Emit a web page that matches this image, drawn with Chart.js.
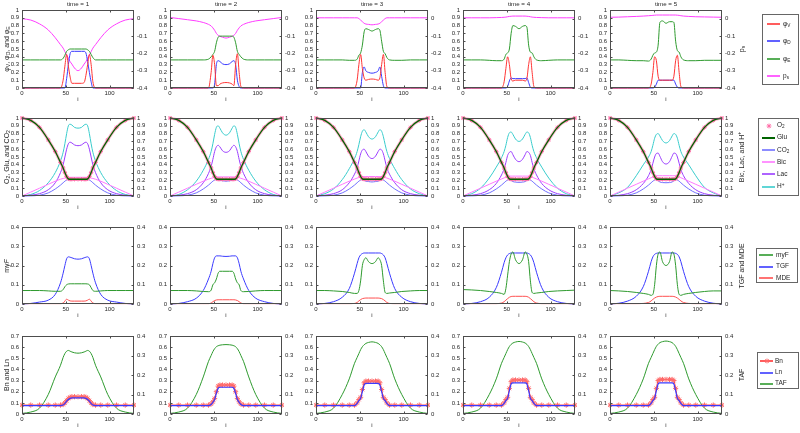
<!DOCTYPE html>
<html><head><meta charset="utf-8">
<script src="https://cdn.jsdelivr.net/npm/chart.js@4.4.1/dist/chart.umd.min.js"></script>
<style>
html,body{margin:0;padding:0;background:#fff;}
body{width:800px;height:433px;position:relative;overflow:hidden;font-family:"Liberation Sans",Arial,sans-serif;color:#262626;}
canvas{position:absolute;}
.lbl{position:absolute;white-space:nowrap;line-height:1;}
.c{transform:translate(-50%,-50%);}
.rot{transform:translate(-50%,-50%) rotate(-90deg);}
sub{font-size:72%;vertical-align:-0.3em;line-height:0;}
sup{font-size:72%;vertical-align:0.5em;line-height:0;}
.leg{position:absolute;border:1px solid #666;box-sizing:border-box;background:#fff;}
.ll{position:absolute;}
</style></head><body>
<script>
// ---------------- data ----------------
const xs = [0,10,20,30,38,44,47,49,51,53,55,57,60,64,68,71,73,75,77,79,81,84,90,98,108,118,128];
const xTicks = [0,50,100];
const ticks01 = [0,0.1,0.2,0.3,0.4,0.5,0.6,0.7,0.8,0.9,1];
const psTicks = [-0.4,-0.3,-0.2,-0.1,0];
const ticks04 = [0,0.1,0.2,0.3,0.4];
const ticks07 = [0,0.1,0.2,0.3,0.4,0.5,0.6,0.7];
const times = ['time = 1','time = 2','time = 3','time = 4','time = 5'];

const phiV = [
 [0,0,0,0,0,0,0.1,0.28,0.43,0.28,0.14,0.06,0.06,0.06,0.06,0.07,0.16,0.3,0.43,0.3,0.08,0,0,0,0,0,0],
 [0,0,0,0,0,0,0.2,0.42,0.3,0.03,0.03,0.05,0.065,0.07,0.065,0.05,0.03,0.3,0.44,0.2,0.02,0,0,0,0,0,0],
 [0,0,0,0,0,0,0.1,0.3,0.43,0.25,0.13,0.1,0.11,0.115,0.11,0.1,0.13,0.3,0.43,0.2,0.02,0,0,0,0,0,0],
 [0,0,0,0,0,0,0.08,0.25,0.4,0.3,0.12,0.09,0.1,0.1,0.1,0.09,0.12,0.3,0.4,0.2,0.02,0,0,0,0,0,0],
 [0,0,0,0,0,0,0.05,0.2,0.4,0.35,0.15,0.1,0.1,0.1,0.1,0.1,0.15,0.35,0.42,0.2,0.02,0,0,0,0,0,0]
];
const phiD = [
 [0,0,0,0,0,0,0,0,0.12,0.3,0.44,0.47,0.47,0.47,0.47,0.47,0.45,0.34,0.2,0.08,0,0,0,0,0,0,0],
 [0,0,0,0,0,0,0,0,0.05,0.3,0.35,0.34,0.31,0.3,0.31,0.34,0.35,0.3,0.1,0.02,0,0,0,0,0,0,0],
 [0,0,0,0,0,0,0,0,0,0.2,0.27,0.22,0.2,0.19,0.2,0.22,0.27,0.15,0.03,0,0,0,0,0,0,0,0],
 [0,0,0,0,0,0,0,0,0.02,0.09,0.13,0.12,0.12,0.12,0.12,0.12,0.13,0.07,0.01,0,0,0,0,0,0,0,0],
 [0,0,0,0,0,0,0,0,0.01,0.05,0.1,0.1,0.1,0.1,0.1,0.1,0.1,0.05,0.01,0,0,0,0,0,0,0,0]
];
const phiE = [
 [0.36,0.36,0.36,0.36,0.36,0.36,0.38,0.42,0.47,0.49,0.5,0.5,0.5,0.5,0.5,0.5,0.5,0.49,0.47,0.43,0.39,0.36,0.36,0.36,0.36,0.36,0.36],
 [0.36,0.36,0.36,0.36,0.36,0.37,0.4,0.43,0.47,0.58,0.65,0.665,0.665,0.665,0.665,0.665,0.65,0.58,0.47,0.43,0.4,0.37,0.36,0.36,0.36,0.36,0.36],
 [0.36,0.36,0.36,0.36,0.355,0.355,0.37,0.42,0.45,0.55,0.72,0.76,0.75,0.73,0.75,0.76,0.74,0.6,0.47,0.44,0.39,0.36,0.355,0.355,0.36,0.36,0.36],
 [0.36,0.36,0.36,0.355,0.35,0.35,0.37,0.43,0.45,0.5,0.7,0.8,0.79,0.76,0.79,0.8,0.78,0.55,0.46,0.45,0.4,0.36,0.35,0.355,0.36,0.36,0.36],
 [0.36,0.36,0.355,0.35,0.35,0.345,0.37,0.42,0.45,0.46,0.55,0.84,0.86,0.83,0.85,0.85,0.84,0.6,0.48,0.46,0.4,0.36,0.35,0.35,0.355,0.355,0.355]
];
const ps = [
 [0,-0.008,-0.03,-0.065,-0.11,-0.15,-0.17,-0.19,-0.21,-0.228,-0.248,-0.262,-0.285,-0.3,-0.285,-0.262,-0.248,-0.228,-0.21,-0.19,-0.17,-0.15,-0.11,-0.065,-0.03,-0.008,0],
 [0.007,0.0005,-0.006,-0.013,-0.022,-0.033,-0.042,-0.053,-0.067,-0.085,-0.096,-0.102,-0.107,-0.112,-0.107,-0.102,-0.096,-0.085,-0.067,-0.053,-0.042,-0.033,-0.022,-0.013,-0.006,0.0005,0.007],
 [0.005,0.005,0.005,0.005,0.005,0.005,0.005,0.0005,-0.0085,-0.0175,-0.0265,-0.031,-0.033,-0.0355,-0.033,-0.031,-0.0265,-0.0175,-0.0085,0.0005,0.005,0.005,0.005,0.005,0.005,0.005,0.005],
 [0.005,0.005,0.005,0.005,0.006,0.007,0.008,0.009,0.011,0.013,0.014,0.015,0.015,0.015,0.015,0.015,0.014,0.013,0.011,0.009,0.008,0.007,0.006,0.005,0.005,0.005,0.005],
 [0.008,0.009,0.011,0.013,0.015,0.017,0.018,0.019,0.02,0.021,0.021,0.021,0.021,0.021,0.021,0.021,0.021,0.021,0.02,0.019,0.017,0.015,0.013,0.011,0.01,0.009,0.008]
];
// O2 and Glu read identical at every time
const o2 = [1,0.97,0.88,0.72,0.57,0.43,0.36,0.3,0.25,0.22,0.215,0.215,0.215,0.215,0.215,0.215,0.215,0.22,0.25,0.3,0.36,0.43,0.57,0.72,0.88,0.97,1];
const glu = [1,0.97,0.88,0.72,0.57,0.43,0.36,0.3,0.25,0.22,0.215,0.215,0.215,0.215,0.215,0.215,0.215,0.22,0.25,0.3,0.36,0.43,0.57,0.72,0.88,0.97,1];
const co2 = [
 [0,0.002,0.01,0.04,0.09,0.14,0.17,0.19,0.205,0.21,0.21,0.21,0.21,0.21,0.21,0.21,0.21,0.21,0.205,0.19,0.17,0.14,0.09,0.04,0.01,0.002,0],
 [0,0.002,0.01,0.04,0.09,0.14,0.17,0.19,0.205,0.21,0.205,0.2,0.195,0.19,0.195,0.2,0.205,0.21,0.205,0.19,0.17,0.14,0.09,0.04,0.01,0.002,0],
 [0,0.002,0.01,0.04,0.09,0.14,0.17,0.19,0.205,0.21,0.2,0.19,0.185,0.18,0.185,0.19,0.2,0.21,0.205,0.19,0.17,0.14,0.09,0.04,0.01,0.002,0],
 [0,0.002,0.01,0.04,0.09,0.14,0.17,0.19,0.205,0.21,0.2,0.185,0.178,0.175,0.178,0.185,0.2,0.21,0.205,0.19,0.17,0.14,0.09,0.04,0.01,0.002,0],
 [0,0.002,0.01,0.04,0.09,0.14,0.17,0.19,0.205,0.21,0.195,0.18,0.172,0.17,0.172,0.18,0.195,0.21,0.205,0.19,0.17,0.14,0.09,0.04,0.01,0.002,0]
];
const bic = [
 [0,0.05,0.1,0.15,0.19,0.215,0.225,0.23,0.235,0.24,0.24,0.24,0.24,0.24,0.24,0.24,0.24,0.24,0.235,0.23,0.225,0.215,0.19,0.15,0.1,0.05,0],
 [0,0.05,0.1,0.15,0.19,0.216,0.227,0.233,0.24,0.245,0.245,0.245,0.245,0.245,0.245,0.245,0.245,0.245,0.24,0.233,0.227,0.216,0.19,0.15,0.1,0.05,0],
 [0,0.05,0.1,0.15,0.19,0.217,0.23,0.237,0.244,0.25,0.25,0.25,0.25,0.25,0.25,0.25,0.25,0.25,0.244,0.237,0.23,0.217,0.19,0.15,0.1,0.05,0],
 [0,0.05,0.1,0.15,0.19,0.218,0.232,0.24,0.248,0.255,0.255,0.255,0.255,0.255,0.255,0.255,0.255,0.255,0.248,0.24,0.232,0.218,0.19,0.15,0.1,0.05,0],
 [0,0.05,0.1,0.15,0.19,0.22,0.234,0.243,0.252,0.26,0.26,0.26,0.26,0.26,0.26,0.26,0.26,0.26,0.252,0.243,0.234,0.22,0.19,0.15,0.1,0.05,0]
];
const lac = [
 [0,0.01,0.03,0.08,0.17,0.3,0.4,0.5,0.6,0.67,0.69,0.68,0.655,0.645,0.655,0.68,0.69,0.67,0.6,0.5,0.4,0.3,0.17,0.08,0.03,0.01,0],
 [0,0.01,0.03,0.08,0.17,0.29,0.38,0.47,0.57,0.63,0.65,0.63,0.58,0.56,0.58,0.63,0.65,0.63,0.57,0.47,0.38,0.29,0.17,0.08,0.03,0.01,0],
 [0,0.01,0.03,0.08,0.17,0.28,0.36,0.45,0.54,0.59,0.6,0.57,0.51,0.48,0.51,0.57,0.6,0.59,0.54,0.45,0.36,0.28,0.17,0.08,0.03,0.01,0],
 [0,0.01,0.03,0.08,0.16,0.27,0.35,0.43,0.52,0.56,0.57,0.53,0.47,0.44,0.47,0.53,0.57,0.56,0.52,0.43,0.35,0.27,0.16,0.08,0.03,0.01,0],
 [0,0.01,0.03,0.08,0.16,0.26,0.34,0.42,0.5,0.545,0.55,0.51,0.44,0.41,0.44,0.51,0.55,0.545,0.5,0.42,0.34,0.26,0.16,0.08,0.03,0.01,0]
];
const hplus = [
 [0,0.02,0.07,0.17,0.3,0.45,0.56,0.67,0.8,0.9,0.92,0.91,0.88,0.87,0.88,0.91,0.92,0.9,0.8,0.67,0.56,0.45,0.3,0.17,0.07,0.02,0],
 [0,0.02,0.08,0.19,0.33,0.47,0.57,0.67,0.79,0.88,0.9,0.87,0.81,0.78,0.81,0.87,0.9,0.88,0.79,0.67,0.57,0.47,0.33,0.19,0.08,0.02,0],
 [0,0.03,0.09,0.21,0.35,0.48,0.57,0.66,0.76,0.83,0.85,0.82,0.76,0.73,0.76,0.82,0.85,0.83,0.76,0.66,0.57,0.48,0.35,0.21,0.09,0.03,0],
 [0,0.03,0.1,0.23,0.37,0.49,0.57,0.65,0.75,0.81,0.82,0.79,0.73,0.7,0.73,0.79,0.82,0.81,0.75,0.65,0.57,0.49,0.37,0.23,0.1,0.03,0],
 [0,0.04,0.11,0.26,0.4,0.5,0.57,0.65,0.74,0.79,0.8,0.77,0.71,0.68,0.71,0.77,0.8,0.79,0.74,0.65,0.57,0.5,0.4,0.26,0.11,0.04,0]
];
const myF = [
 [0.07,0.07,0.07,0.068,0.066,0.066,0.075,0.09,0.1,0.104,0.105,0.105,0.105,0.105,0.105,0.105,0.105,0.104,0.1,0.085,0.07,0.066,0.068,0.07,0.07,0.07,0.07],
 [0.07,0.07,0.07,0.068,0.065,0.064,0.072,0.1,0.11,0.13,0.16,0.17,0.17,0.17,0.17,0.17,0.16,0.13,0.11,0.1,0.07,0.064,0.065,0.068,0.07,0.07,0.07],
 [0.07,0.07,0.068,0.065,0.06,0.055,0.055,0.07,0.12,0.2,0.23,0.24,0.22,0.21,0.22,0.24,0.23,0.2,0.12,0.06,0.055,0.057,0.06,0.065,0.068,0.07,0.07],
 [0.075,0.073,0.07,0.065,0.06,0.055,0.05,0.08,0.15,0.22,0.26,0.27,0.23,0.21,0.23,0.27,0.26,0.22,0.12,0.06,0.055,0.057,0.06,0.065,0.068,0.07,0.072],
 [0.07,0.068,0.065,0.06,0.055,0.05,0.045,0.05,0.1,0.2,0.26,0.27,0.22,0.2,0.22,0.27,0.26,0.2,0.1,0.05,0.045,0.05,0.055,0.06,0.065,0.068,0.068]
];
const tgf = [
 [0,0.003,0.01,0.02,0.05,0.11,0.16,0.2,0.235,0.245,0.243,0.24,0.235,0.233,0.235,0.24,0.243,0.245,0.235,0.2,0.16,0.11,0.05,0.02,0.01,0.003,0],
 [0,0.003,0.012,0.03,0.07,0.13,0.17,0.21,0.24,0.25,0.25,0.25,0.248,0.247,0.248,0.25,0.25,0.25,0.24,0.21,0.17,0.13,0.07,0.03,0.012,0.003,0],
 [0,0.003,0.012,0.035,0.08,0.16,0.21,0.24,0.255,0.262,0.265,0.265,0.265,0.265,0.265,0.265,0.265,0.262,0.255,0.24,0.21,0.16,0.08,0.035,0.012,0.003,0],
 [0,0.003,0.012,0.035,0.085,0.165,0.215,0.24,0.255,0.262,0.265,0.265,0.265,0.265,0.265,0.265,0.265,0.262,0.255,0.24,0.215,0.165,0.085,0.035,0.012,0.003,0],
 [0,0.004,0.015,0.04,0.09,0.17,0.22,0.245,0.258,0.263,0.265,0.265,0.265,0.265,0.265,0.265,0.265,0.263,0.258,0.245,0.22,0.17,0.09,0.04,0.015,0.004,0]
];
const mde = [
 [0.002,0.002,0.002,0.002,0.002,0.002,0.005,0.015,0.025,0.02,0.016,0.015,0.015,0.015,0.015,0.015,0.016,0.02,0.025,0.015,0.005,0.002,0.002,0.002,0.002,0.002,0.002],
 [0.002,0.002,0.002,0.002,0.002,0.002,0.005,0.012,0.018,0.021,0.022,0.022,0.022,0.022,0.022,0.022,0.022,0.021,0.018,0.012,0.005,0.002,0.002,0.002,0.002,0.002,0.002],
 [0.002,0.002,0.002,0.002,0.002,0.003,0.008,0.016,0.023,0.028,0.03,0.031,0.031,0.031,0.031,0.031,0.03,0.028,0.023,0.016,0.008,0.003,0.002,0.002,0.002,0.002,0.002],
 [0.002,0.002,0.002,0.002,0.002,0.005,0.012,0.02,0.028,0.035,0.039,0.04,0.04,0.04,0.04,0.04,0.039,0.035,0.028,0.02,0.012,0.005,0.002,0.002,0.002,0.002,0.002],
 [0.002,0.002,0.002,0.002,0.003,0.008,0.016,0.024,0.031,0.036,0.039,0.04,0.04,0.04,0.04,0.04,0.039,0.036,0.031,0.024,0.016,0.008,0.003,0.002,0.002,0.002,0.002]
];
const bn = [
 [0.08,0.08,0.08,0.08,0.08,0.08,0.085,0.1,0.12,0.14,0.15,0.155,0.155,0.155,0.155,0.155,0.15,0.14,0.12,0.1,0.085,0.08,0.08,0.08,0.08,0.08,0.08],
 [0.08,0.08,0.08,0.08,0.08,0.08,0.09,0.11,0.14,0.2,0.25,0.26,0.26,0.26,0.26,0.26,0.25,0.2,0.14,0.11,0.09,0.08,0.08,0.08,0.08,0.08,0.08],
 [0.08,0.08,0.08,0.08,0.08,0.08,0.1,0.13,0.15,0.22,0.28,0.295,0.295,0.295,0.295,0.295,0.28,0.22,0.15,0.13,0.1,0.08,0.08,0.08,0.08,0.08,0.08],
 [0.08,0.08,0.08,0.08,0.08,0.08,0.1,0.13,0.15,0.23,0.29,0.305,0.305,0.305,0.305,0.305,0.29,0.23,0.15,0.13,0.1,0.08,0.08,0.08,0.08,0.08,0.08],
 [0.08,0.08,0.08,0.08,0.08,0.08,0.1,0.13,0.15,0.23,0.3,0.31,0.31,0.31,0.31,0.31,0.3,0.23,0.15,0.13,0.1,0.08,0.08,0.08,0.08,0.08,0.08]
];
const ln = [
 [0.075,0.075,0.075,0.075,0.075,0.075,0.08,0.095,0.115,0.13,0.14,0.145,0.145,0.145,0.145,0.145,0.14,0.13,0.115,0.095,0.08,0.075,0.075,0.075,0.075,0.075,0.075],
 [0.075,0.075,0.075,0.075,0.075,0.075,0.085,0.105,0.13,0.185,0.23,0.24,0.24,0.24,0.24,0.24,0.23,0.185,0.13,0.105,0.085,0.075,0.075,0.075,0.075,0.075,0.075],
 [0.075,0.075,0.075,0.075,0.075,0.075,0.095,0.12,0.14,0.2,0.26,0.275,0.275,0.275,0.275,0.275,0.26,0.2,0.14,0.12,0.095,0.075,0.075,0.075,0.075,0.075,0.075],
 [0.075,0.075,0.075,0.075,0.075,0.075,0.095,0.12,0.14,0.21,0.27,0.28,0.28,0.28,0.28,0.28,0.27,0.21,0.14,0.12,0.095,0.075,0.075,0.075,0.075,0.075,0.075],
 [0.075,0.075,0.075,0.075,0.075,0.075,0.095,0.12,0.14,0.21,0.27,0.28,0.28,0.28,0.28,0.28,0.27,0.21,0.14,0.12,0.095,0.075,0.075,0.075,0.075,0.075,0.075]
];
const taf = [
 [0.003,0.01,0.03,0.1,0.19,0.25,0.29,0.31,0.322,0.326,0.322,0.318,0.314,0.312,0.314,0.318,0.322,0.326,0.322,0.31,0.29,0.25,0.19,0.1,0.03,0.01,0.003],
 [0.003,0.01,0.03,0.1,0.19,0.27,0.3,0.32,0.335,0.345,0.35,0.353,0.355,0.356,0.355,0.353,0.35,0.345,0.335,0.32,0.3,0.27,0.19,0.1,0.03,0.01,0.003],
 [0.003,0.01,0.03,0.1,0.18,0.26,0.29,0.31,0.33,0.345,0.355,0.362,0.367,0.37,0.367,0.362,0.355,0.345,0.33,0.31,0.29,0.26,0.18,0.1,0.03,0.01,0.003],
 [0.003,0.01,0.03,0.1,0.18,0.26,0.29,0.31,0.33,0.346,0.357,0.364,0.369,0.372,0.369,0.364,0.357,0.346,0.33,0.31,0.29,0.26,0.18,0.1,0.03,0.01,0.003],
 [0.003,0.01,0.03,0.1,0.18,0.26,0.29,0.31,0.33,0.347,0.358,0.366,0.371,0.374,0.371,0.366,0.358,0.347,0.33,0.31,0.29,0.26,0.18,0.1,0.03,0.01,0.003]
];

// ---------------- layout / style ----------------
const FAM = '"Liberation Sans", Arial, sans-serif';
const AX = '#4d4d4d', TXT = '#262626';
const colLeft = [22,170,316,463,610], PW = 112;
const rowTop = [10,118,227,336], rowH = [78,78,77,78];
const PL = 30, PR = 30, PT = 8, PB = 15;

const C = {red:'#ff3434', blue:'#3a3aff', green:'#2e9a2e', mag:'#ff3cff', pink:'#ff6fa8', dgreen:'#006400',
           lblue:'#6f6fff', bic:'#ff78ff', lac:'#9a3cff', cyan:'#38cccc', mde:'#ff5050'};

const rows = [
 {yMin:0,yMax:1,yT:ticks01,y2Min:-0.4,y2Max:0.05,y2T:psTicks, series:[
   {get:c=>phiV[c],color:C.red,axis:'y'},{get:c=>phiD[c],color:C.blue,axis:'y'},
   {get:c=>phiE[c],color:C.green,axis:'y'},{get:c=>ps[c],color:C.mag,axis:'y2'}]},
 {yMin:0,yMax:1,yT:ticks01,y2Min:0,y2Max:1,y2T:ticks01, series:[
   {get:c=>glu,color:C.dgreen,axis:'y',w:1.3},
   {get:c=>o2,color:'rgba(255,110,160,0.55)',axis:'y',w:3,pt:{r:2.2,color:C.pink}},
   {get:c=>co2[c],color:C.lblue,axis:'y'},{get:c=>bic[c],color:C.bic,axis:'y2'},
   {get:c=>lac[c],color:C.lac,axis:'y2'},{get:c=>hplus[c],color:C.cyan,axis:'y2'}]},
 {yMin:0,yMax:0.4,yT:ticks04,y2Min:0,y2Max:0.4,y2T:ticks04, series:[
   {get:c=>mde[c],color:C.mde,axis:'y2'},{get:c=>myF[c],color:C.green,axis:'y'},
   {get:c=>tgf[c],color:C.blue,axis:'y2'}]},
 {yMin:0,yMax:0.7,yT:ticks07,y2Min:0,y2Max:0.4,y2T:ticks04, series:[
   {get:c=>ln[c],color:C.blue,axis:'y',w:1.2},
   {get:c=>bn[c],color:C.red,axis:'y',pt:{r:2.6,color:'#ff6a6a'}},
   {get:c=>taf[c],color:C.green,axis:'y2'}]}
];

const frame = {id:'frame', afterDatasetsDraw(chart){
  const {ctx, chartArea:a, scales} = chart;
  ctx.save(); ctx.strokeStyle = AX; ctx.lineWidth = 1;
  const l = Math.round(a.left)+0.5, r = Math.round(a.right)-0.5, t = Math.round(a.top)+0.5, b = Math.round(a.bottom)-0.5;
  ctx.strokeRect(l, t, r-l, b-t);
  ctx.beginPath();
  scales.x.ticks.forEach(k=>{const p=Math.round(scales.x.getPixelForValue(k.value))+0.5; ctx.moveTo(p,b); ctx.lineTo(p,b-2); ctx.moveTo(p,t); ctx.lineTo(p,t+2);});
  scales.y.ticks.forEach(k=>{const p=Math.round(scales.y.getPixelForValue(k.value))+0.5; ctx.moveTo(l,p); ctx.lineTo(l+2,p);});
  scales.y2.ticks.forEach(k=>{const p=Math.round(scales.y2.getPixelForValue(k.value))+0.5; ctx.moveTo(r,p); ctx.lineTo(r-2,p);});
  ctx.stroke(); ctx.restore();
}};

const fmt = v => String(Math.round(v*100)/100);
const setTicks = list => s => { s.ticks = list.map(v=>({value:v})); };

function panel(r, c){
  const row = rows[r];
  const cv = document.createElement('canvas');
  const W = PL+PW+PR, H = PT+rowH[r]+PB;
  cv.width = W; cv.height = H;
  cv.style.left = (colLeft[c]-PL)+'px'; cv.style.top = (rowTop[r]-PT)+'px';
  cv.style.width = W+'px'; cv.style.height = H+'px';
  document.body.appendChild(cv);
  const font = {family:FAM, size:6};
  const datasets = row.series.map(s=>{
    const arr = s.get(c);
    return {data: xs.map((x,i)=>({x, y:arr[i]})), yAxisID:s.axis, borderColor:s.color, borderWidth:s.w||1,
      pointRadius:s.pt?s.pt.r:0, pointStyle:'star', pointBorderColor:s.pt?s.pt.color:s.color, pointBorderWidth:1,
      pointBackgroundColor:'transparent', cubicInterpolationMode:'monotone', fill:false, clip:2};
  });
  const yScale = (pos,min,max,list,wid) => ({type:'linear',position:pos,min,max,afterBuildTicks:setTicks(list),
      afterFit:s=>{s.width=wid;}, grid:{display:false,drawTicks:false}, border:{display:false},
      ticks:{font,color:TXT,padding:3,autoSkip:false,callback:v=>fmt(v)}});
  new Chart(cv, {type:'line', data:{datasets}, options:{
    responsive:false, animation:false, events:[], devicePixelRatio:1,
    layout:{padding:{top:PT,left:0,right:0,bottom:0}},
    plugins:{legend:{display:false}, tooltip:{enabled:false}},
    scales:{
      x:{type:'linear',min:0,max:128,afterBuildTicks:setTicks(xTicks),afterFit:s=>{s.height=PB;},
         grid:{display:false,drawTicks:false}, border:{display:false},
         ticks:{font,color:TXT,padding:2,maxRotation:0,autoSkip:false,callback:v=>fmt(v)},
         title:{display:true,text:'i',font,color:TXT,padding:0}},
      y: yScale('left', row.yMin,row.yMax,row.yT,PL),
      y2: yScale('right',row.y2Min,row.y2Max,row.y2T,PR)
    }}, plugins:[frame]});
}

function addText(html, x, y, size, cls){
  const d = document.createElement('div');
  d.className = 'lbl '+cls; d.innerHTML = html;
  d.style.left = x+'px'; d.style.top = y+'px'; d.style.fontSize = size+'px';
  document.body.appendChild(d); return d;
}

for (let r=0;r<4;r++) for (let c=0;c<5;c++) panel(r,c);
times.forEach((t,c)=>addText(t, colLeft[c]+PW/2, 3.5, 6.2, 'c'));

// axis titles
const leftTitles = ['&phi;<sub>V</sub>, &phi;<sub>D</sub>, and &phi;<sub>E</sub>','O<sub>2</sub>, Glu, and CO<sub>2</sub>','my<i>F</i>','Bn and Ln'];
const rightTitles = ['p<sub>s</sub>','Bic, Lac, and H<sup>+</sup>','TGF and MDE','TAF'];
leftTitles.forEach((t,r)=>addText(t, 6, rowTop[r]+rowH[r]/2, 7, 'rot'));
rightTitles.forEach((t,r)=>addText(t, 740.5, rowTop[r]+rowH[r]/2, 7, 'rot'));

// legends
function legend(box, x0, x1, lx, items){
  const d = document.createElement('div'); d.className='leg';
  d.style.left=box[0]+'px'; d.style.top=box[1]+'px'; d.style.width=box[2]+'px'; d.style.height=box[3]+'px';
  document.body.appendChild(d);
  items.forEach(it=>{
    const yy = Math.round(it.y);
    if (it.line!==false){
      const l = document.createElement('div'); l.className='ll';
      const w = it.w||2;
      l.style.left = x0+'px'; l.style.top = (yy-1)+'px'; l.style.width = (x1-x0)+'px';
      l.style.height = w+'px'; l.style.background = it.color; l.style.opacity = it.op||0.8;
      document.body.appendChild(l);
    }
    if (it.star){
      const s=2.4, t=1.7;
      const svg = `<svg width="8" height="8" style="position:absolute;left:${(x0+x1)/2-4}px;top:${yy-4}px;overflow:visible"><g stroke="${it.star}" stroke-width="1"><line x1="${4-s}" y1="4" x2="${4+s}" y2="4"/><line x1="4" y1="${4-s}" x2="4" y2="${4+s}"/><line x1="${4-t}" y1="${4-t}" x2="${4+t}" y2="${4+t}"/><line x1="${4-t}" y1="${4+t}" x2="${4+t}" y2="${4-t}"/></g></svg>`;
      const w = document.createElement('div'); w.innerHTML = svg; document.body.appendChild(w.firstChild);
    }
    addText(it.label, lx, it.y-3.4, 6.5, '');
  });
}
legend([762,14,37,71], 767, 780, 783, [
  {y:24,color:C.red,label:'&phi;<sub>V</sub>'},{y:41,color:C.blue,label:'&phi;<sub>D</sub>'},
  {y:59,color:C.green,label:'&phi;<sub>E</sub>'},{y:76,color:C.mag,label:'p<sub>s</sub>'}]);
legend([758,118,41,78], 762, 775, 777, [
  {y:125.5,line:false,star:C.pink,label:'O<sub>2</sub>'},{y:137.7,color:C.dgreen,op:1,label:'Glu'},
  {y:149.9,color:C.lblue,label:'CO<sub>2</sub>'},{y:162.1,color:C.bic,label:'Bic'},
  {y:174.3,color:C.lac,label:'Lac'},{y:186.5,color:C.cyan,label:'H<sup>+</sup>'}]);
legend([756,248,42,35], 759, 773, 776, [
  {y:255,color:C.green,label:'myF'},{y:266.5,color:C.blue,label:'TGF'},{y:278,color:C.mde,label:'MDE'}]);
legend([757,352,42,37], 760, 773, 775, [
  {y:361,color:C.red,star:'#ff6a6a',label:'Bn'},{y:372.5,color:C.blue,label:'Ln'},{y:383.5,color:C.green,label:'TAF'}]);
</script>
</body></html>
